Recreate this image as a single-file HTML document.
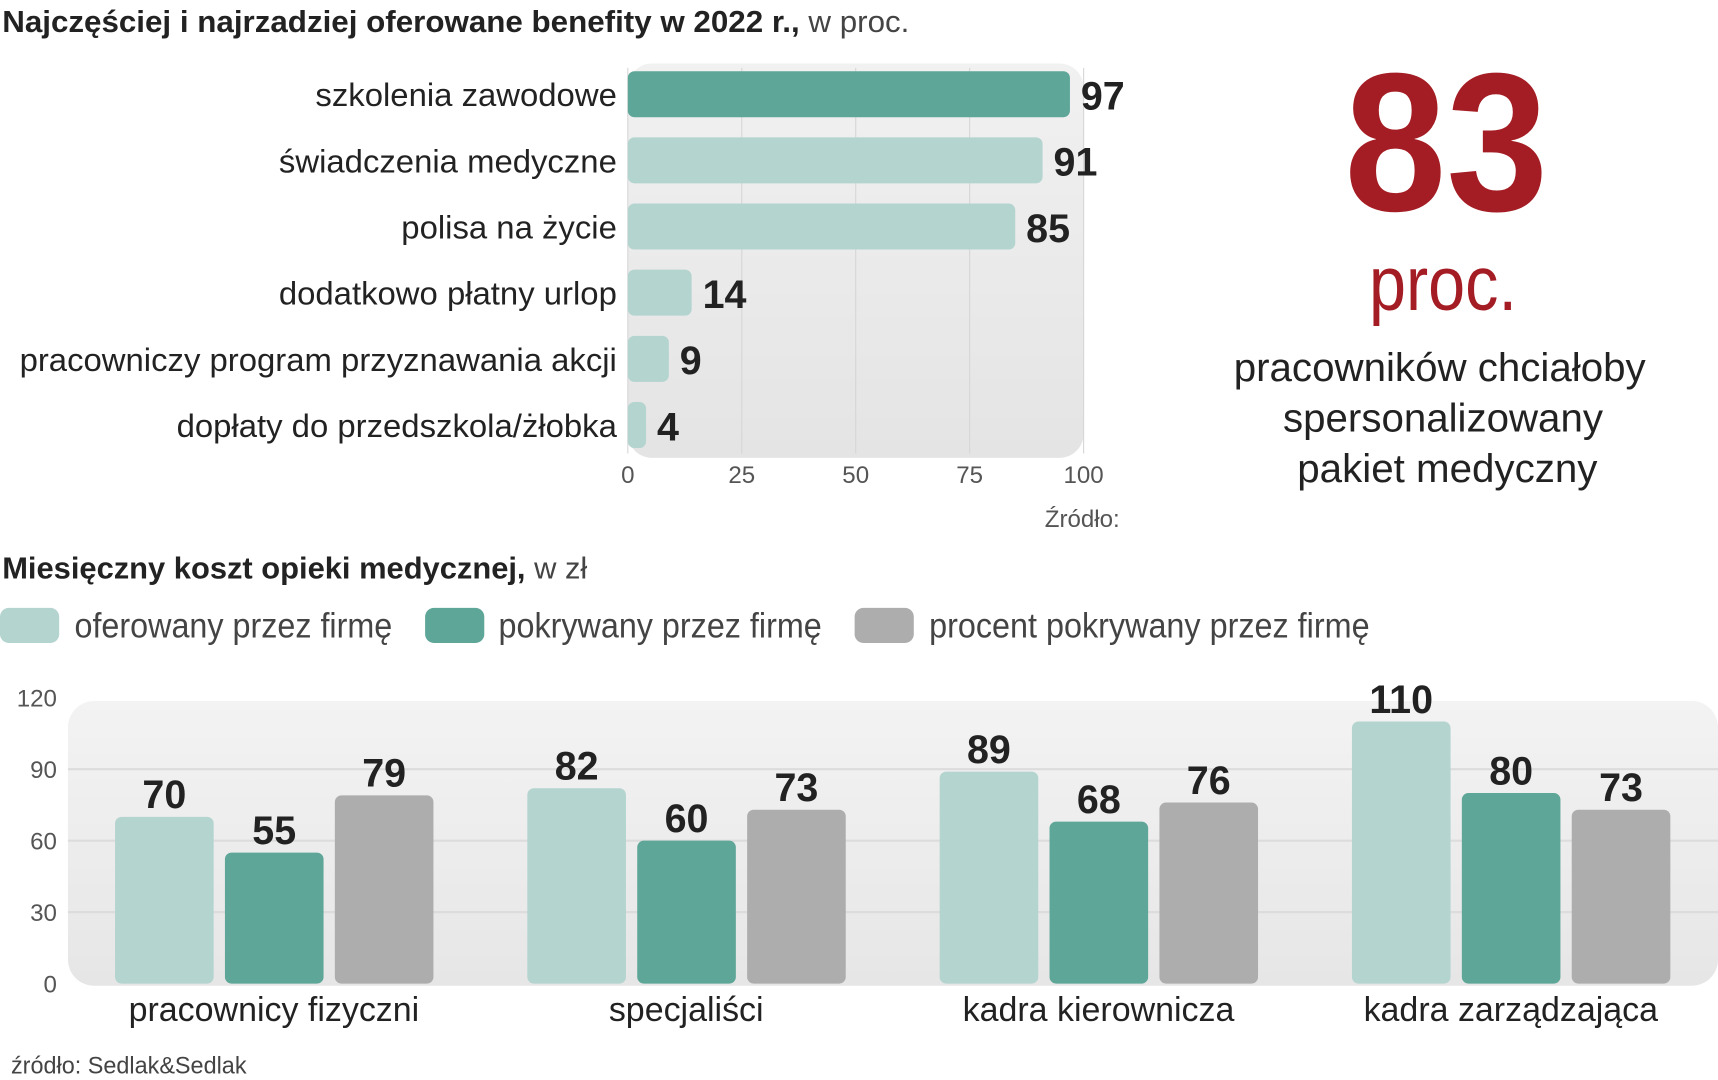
<!DOCTYPE html>
<html><head><meta charset="utf-8"><style>
html,body{margin:0;padding:0;background:#fff;}
svg{display:block;}
text{font-family:"Liberation Sans Narrow","Liberation Sans",sans-serif;}
</style></head><body>
<svg id="chart" width="1718" height="1080" viewBox="0 0 1568 986" preserveAspectRatio="none" xmlns="http://www.w3.org/2000/svg">
<defs>
<linearGradient id="bg1" x1="0" y1="0" x2="0" y2="1"><stop offset="0" stop-color="#f1f1f1"/><stop offset="1" stop-color="#e4e4e4"/></linearGradient>
<linearGradient id="bg2" x1="0" y1="0" x2="0" y2="1"><stop offset="0" stop-color="#f3f3f3"/><stop offset="1" stop-color="#e6e6e6"/></linearGradient>
</defs>
<text x="2" y="29" font-size="28" fill="#222" textLength="828" lengthAdjust="spacingAndGlyphs"><tspan font-weight="bold">Najczęściej i najrzadziej oferowane benefity w 2022 r.,</tspan><tspan fill="#444"> w proc.</tspan></text>
<rect x="573" y="58" width="416" height="360" rx="22" fill="url(#bg1)"/>
<g id="top"></g>
<text x="1022" y="481" font-size="22" fill="#555" text-anchor="end">Źródło:</text>

<text x="1320" y="192" font-size="180" font-weight="bold" fill="#a51d24" text-anchor="middle" textLength="186" lengthAdjust="spacingAndGlyphs" font-family="Liberation Sans">83</text>
<text x="1317" y="283" font-size="70" fill="#a51d24" text-anchor="middle" textLength="135" lengthAdjust="spacingAndGlyphs">proc.</text>
<text x="1314" y="348" font-size="36" fill="#222" text-anchor="middle" textLength="376" lengthAdjust="spacingAndGlyphs" font-family="Liberation Sans">pracowników chciałoby</text>
<text x="1317" y="394" font-size="36" fill="#222" text-anchor="middle" textLength="292" lengthAdjust="spacingAndGlyphs" font-family="Liberation Sans">spersonalizowany</text>
<text x="1321" y="440" font-size="36" fill="#222" text-anchor="middle" textLength="274" lengthAdjust="spacingAndGlyphs" font-family="Liberation Sans">pakiet medyczny</text>

<text x="2" y="528" font-size="28" fill="#222" textLength="534" lengthAdjust="spacingAndGlyphs"><tspan font-weight="bold">Miesięczny koszt opieki medycznej,</tspan><tspan fill="#444"> w zł</tspan></text>
<g>
<rect x="0" y="555" width="54" height="32" rx="8" fill="#b3d4cf"/>
<text x="68" y="582" font-size="32" fill="#444" textLength="290" lengthAdjust="spacingAndGlyphs">oferowany przez firmę</text>
<rect x="388" y="555" width="54" height="32" rx="8" fill="#5ea698"/>
<text x="455" y="582" font-size="32" fill="#444" textLength="295" lengthAdjust="spacingAndGlyphs">pokrywany przez firmę</text>
<rect x="780" y="555" width="54" height="32" rx="8" fill="#adadad"/>
<text x="848" y="582" font-size="32" fill="#444" textLength="402" lengthAdjust="spacingAndGlyphs">procent pokrywany przez firmę</text>
</g>
<rect x="62" y="640" width="1506" height="260" rx="24" fill="url(#bg2)"/>
<g id="bottom"></g>
<text x="10" y="980" font-size="22" fill="#444" textLength="215" lengthAdjust="spacingAndGlyphs">źródło: Sedlak&amp;Sedlak</text>
</svg>
<script>
const topCategories = ["szkolenia zawodowe","świadczenia medyczne","polisa na życie","dodatkowo płatny urlop","pracowniczy program przyznawania akcji","dopłaty do przedszkola/żłobka"];
const topValues = [97,91,85,14,9,4];
const topTicks = [0,25,50,75,100];
const groups = ["pracownicy fizyczni","specjaliści","kadra kierownicza","kadra zarządzająca"];
const offered = [70,82,89,110];
const covered = [55,60,68,80];
const percentCovered = [79,73,76,73];
const bottomTicks = [0,30,60,90,120];

const NS="http://www.w3.org/2000/svg";
function mk(parent,tag,attrs,txt){const e=document.createElementNS(NS,tag);for(const k in attrs)e.setAttribute(k,attrs[k]);if(txt!==undefined)e.textContent=txt;parent.appendChild(e);return e;}

const tg=document.getElementById('top');
const tx=v=>573+v*4.16;
const ty=i=>86+i*60.4;
topTicks.forEach(t=>{
  const l=mk(tg,'line',{x1:tx(t),x2:tx(t),y1:62,y2:414,stroke:'#d6d6d6','stroke-width':1});
  
  
  const s=mk(tg,'text',{x:tx(t),y:441,'font-size':22,fill:'#555','text-anchor':'middle'},t);
  
  
});
topCategories.forEach((c,i)=>{
  const y=ty(i);
  const r=mk(tg,'rect',{x:573,y:y-21,width:Math.max(0,tx(topValues[i])-573),height:42,rx:6,fill:i===0?'#5ea698':'#b3d4cf'});
  
  
  const lb=mk(tg,'text',{x:563,y:y+11,'font-size':30,fill:'#222','text-anchor':'end'},c);
  
  
  const vl=mk(tg,'text',{x:tx(topValues[i])+10,y:y+14,'font-size':36,'font-weight':'bold',fill:'#222'},topValues[i]);
  
  
});

const bg=document.getElementById('bottom');
const by=v=>898-v*2.175;
[30,60,90].forEach(t=>{
  const l=mk(bg,'line',{x1:62,x2:1568,y1:by(t),y2:by(t),stroke:'#dcdcdc','stroke-width':2});
  
  
});
bottomTicks.forEach(t=>{
  const s=mk(bg,'text',{x:52,y:by(t)+8,'font-size':22,fill:'#555','text-anchor':'end'},t);
  
  
});
const series=[{v:offered,c:'#b3d4cf',n:'offered'},{v:covered,c:'#5ea698',n:'covered'},{v:percentCovered,c:'#adadad',n:'percent'}];
groups.forEach((g,gi)=>{
  const gx=105+gi*376.3;
  series.forEach((s,si)=>{
    const x=gx+si*100.3, v=s.v[gi];
    const r=mk(bg,'rect',{x:x,y:by(v),width:90,height:898-by(v),rx:6,fill:s.c});
    
    
    const vl=mk(bg,'text',{x:x+45,y:by(v)-8,'font-size':36,'font-weight':'bold',fill:'#222','text-anchor':'middle'},v);
    
    
  });
  const cl=mk(bg,'text',{x:gx+145,y:932,'font-size':31,fill:'#222','text-anchor':'middle'},g);
  
  
});
</script>
</body></html>
